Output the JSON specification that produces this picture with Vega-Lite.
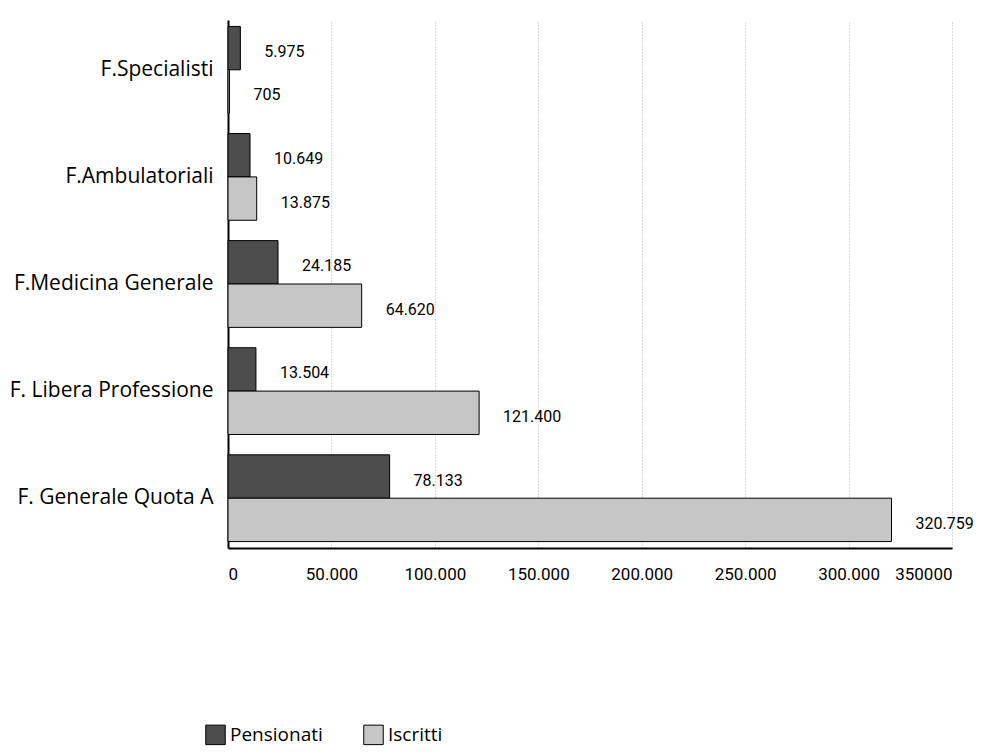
{
  "$schema": "https://vega.github.io/schema/vega-lite/v6.json",
  "width": 724,
  "height": 528,
  "autosize": {"type": "none"},
  "padding": {"left": 228, "top": 20, "right": 30, "bottom": 208},
  "background": "white",
  "config": {
    "locale": {"number": {"decimal": ",", "thousands": ".", "grouping": [3], "currency": ["€", ""]}},
    "view": {"stroke": null},
    "font": "Open Sans"
  },
  "data": {
    "values": [
      {"fondo": "F.Specialisti", "serie": "Pensionati", "valore": 5975},
      {"fondo": "F.Specialisti", "serie": "Iscritti", "valore": 705},
      {"fondo": "F.Ambulatoriali", "serie": "Pensionati", "valore": 10649},
      {"fondo": "F.Ambulatoriali", "serie": "Iscritti", "valore": 13875},
      {"fondo": "F.Medicina Generale", "serie": "Pensionati", "valore": 24185},
      {"fondo": "F.Medicina Generale", "serie": "Iscritti", "valore": 64620},
      {"fondo": "F. Libera Professione", "serie": "Pensionati", "valore": 13504},
      {"fondo": "F. Libera Professione", "serie": "Iscritti", "valore": 121400},
      {"fondo": "F. Generale Quota A", "serie": "Pensionati", "valore": 78133},
      {"fondo": "F. Generale Quota A", "serie": "Iscritti", "valore": 320759}
    ]
  },
  "encoding": {
    "y": {
      "field": "fondo", "type": "nominal", "sort": null,
      "scale": {"paddingInner": 0.19, "paddingOuter": 0.06},
      "axis": {
        "title": null, "ticks": false, "labelFontSize": 21, "labelFont": "Open Sans",
        "labelColor": "black", "labelPadding": 15, "domainColor": "black", "domainWidth": 2,
        "labelLimit": 300
      }
    },
    "yOffset": {"field": "serie", "type": "nominal", "sort": ["Pensionati", "Iscritti"]},
    "x": {
      "field": "valore", "type": "quantitative",
      "scale": {"domain": [0, 350000], "nice": false},
      "axis": {
        "title": null, "values": [0, 50000, 100000, 150000, 200000, 250000, 300000, 350000],
        "format": ",d", "labelExpr": "datum.value == 350000 ? '350000' : datum.label",
        "ticks": false, "labelPadding": 18, "labelFontSize": 17, "labelFont": "Roboto",
        "labelColor": "black", "domainColor": "black", "domainWidth": 2,
        "grid": true, "gridColor": "#b8b8b8", "gridDash": [1, 2], "gridWidth": 1
      }
    }
  },
  "layer": [
    {
      "mark": {"type": "bar", "stroke": "black", "strokeWidth": 1},
      "encoding": {
        "color": {
          "field": "serie", "type": "nominal",
          "scale": {"domain": ["Pensionati", "Iscritti"], "range": ["#4d4d4d", "#c6c6c6"]},
          "legend": {
            "title": null, "orient": "none", "direction": "horizontal",
            "legendX": -23, "legendY": 704, "symbolType": "square", "symbolSize": 380,
            "symbolStrokeColor": "black", "symbolStrokeWidth": 1, "symbolOpacity": 1,
            "labelFontSize": 19, "labelFont": "Open Sans", "labelColor": "black",
            "columnPadding": 38, "labelOffset": 4, "padding": 0
          }
        }
      }
    },
    {
      "mark": {"type": "text", "align": "left", "baseline": "middle", "dx": 24, "dy": 4, "fontSize": 16, "font": "Roboto", "color": "black"},
      "encoding": {
        "text": {"field": "valore", "type": "quantitative", "format": ",d"}
      }
    }
  ]
}
